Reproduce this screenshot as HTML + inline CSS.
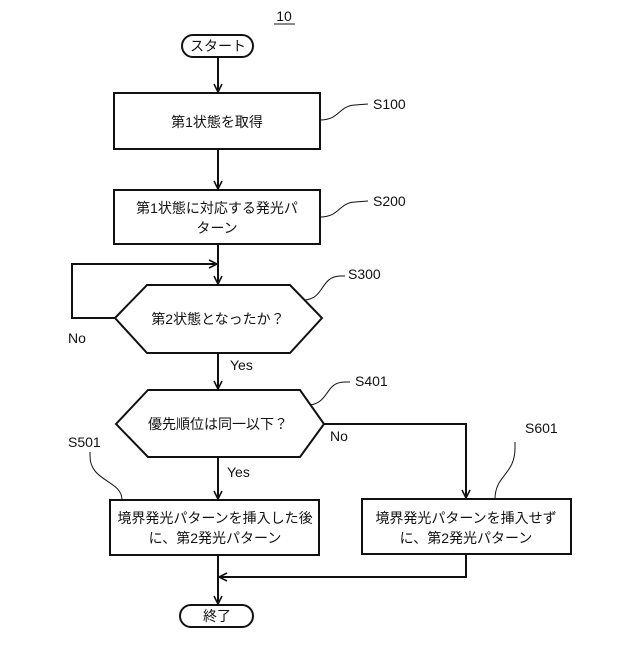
<!DOCTYPE html>
<html><head><meta charset="utf-8"><style>
body{margin:0;background:#fff}
text{font-family:"Liberation Sans","Noto Sans CJK JP",sans-serif;fill:#111}
</style></head><body>
<svg width="640" height="640" viewBox="0 0 640 640" xmlns="http://www.w3.org/2000/svg">
<defs><marker id="a" markerWidth="10" markerHeight="10" refX="9" refY="5" orient="auto" markerUnits="userSpaceOnUse"><path d="M1,1 L9,5 L1,9" fill="none" stroke="#111" stroke-width="1.6"/></marker></defs>
<g stroke="#111" stroke-width="2" fill="none">
<rect x="182" y="35" width="71" height="22" rx="11" fill="#fff"/>
<line x1="218" y1="57" x2="218" y2="92" marker-end="url(#a)"/>
<rect x="114" y="93" width="206" height="56"/>
<line x1="218" y1="149" x2="218" y2="189" marker-end="url(#a)"/>
<rect x="114" y="190" width="206" height="54"/>
<line x1="218" y1="244" x2="218" y2="284" marker-end="url(#a)"/>
<polyline points="115,318 72,318 72,264 217,264" marker-end="url(#a)"/>
<polygon points="115,318 147,285 290,285 322,318 290,353 147,353"/>
<line x1="218" y1="353" x2="218" y2="389" marker-end="url(#a)"/>
<polygon points="116,424 148,390 300,390 324,424 300,457 148,457"/>
<line x1="218" y1="457" x2="218" y2="499" marker-end="url(#a)"/>
<polyline points="324,424 466,424 466,498" marker-end="url(#a)"/>
<rect x="110" y="500" width="209" height="55"/>
<rect x="362" y="499" width="209" height="55"/>
<polyline points="466,554 466,577 219,577" marker-end="url(#a)"/>
<line x1="218" y1="555" x2="218" y2="604" marker-end="url(#a)"/>
<rect x="180" y="605" width="73" height="22" rx="11"/>
</g>
<g stroke="#111" stroke-width="1" fill="none">
<path d="M320,120 C340,120 338,106 355,105 L368,104"/>
<path d="M320,217 C340,217 338,203 355,202 L368,201"/>
<path d="M305,300 C325,298 320,277 340,276 L345,276"/>
<path d="M310,405 C330,402 325,382 345,382 L350,382"/>
<path d="M122,500 C122,480 90,482 90,456 L90,452"/>
<path d="M495,499 C495,475 515,475 515,448 L515,442"/>
<line x1="274" y1="24" x2="295" y2="24"/>
</g>
<g font-size="14" text-anchor="middle">
<text x="284" y="21">10</text>
<text x="218" y="51">スタート</text>
<text x="217" y="127">第1状態を取得</text>
<text x="217" y="213">第1状態に対応する発光パ</text>
<text x="217" y="233">ターン</text>
<text x="218" y="324">第2状態となったか？</text>
<text x="218" y="429">優先順位は同一以下？</text>
<text x="215" y="523">境界発光パターンを挿入した後</text>
<text x="215" y="543">に、第2発光パターン</text>
<text x="466" y="523">境界発光パターンを挿入せず</text>
<text x="466" y="543">に、第2発光パターン</text>
<text x="217" y="621">終了</text>
</g>
<g font-size="14">
<text x="373" y="109">S100</text>
<text x="373" y="206">S200</text>
<text x="348" y="279">S300</text>
<text x="355" y="386">S401</text>
<text x="68" y="447">S501</text>
<text x="525" y="433">S601</text>
<text x="68" y="343">No</text>
<text x="230" y="370">Yes</text>
<text x="330" y="441">No</text>
<text x="227" y="477">Yes</text>
</g>
</svg>
</body></html>
